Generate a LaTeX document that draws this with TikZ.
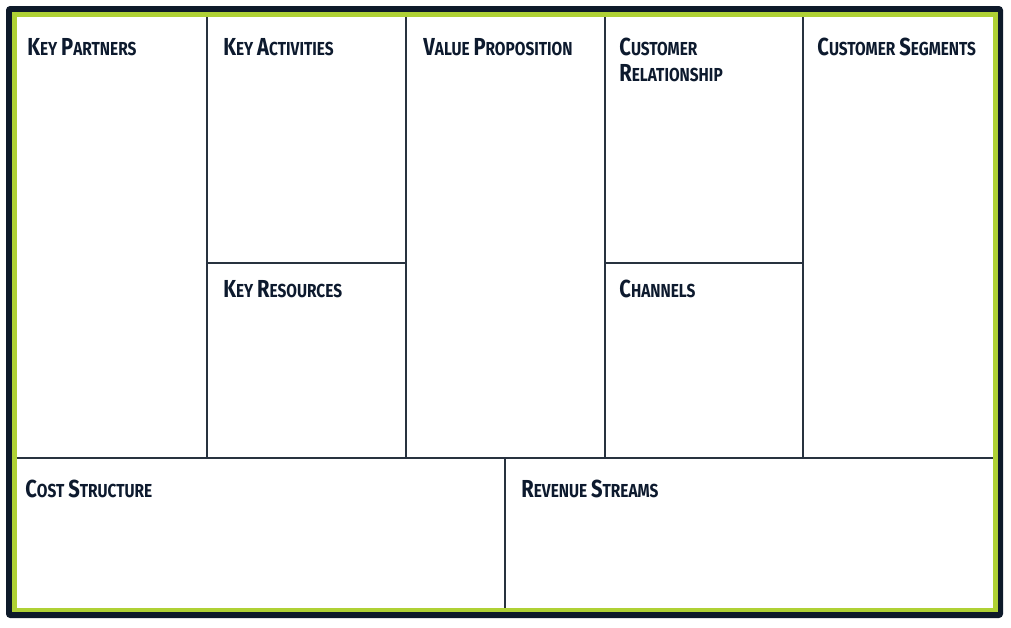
\documentclass[tikz,border=0pt]{standalone}
\usepackage{fontspec}
\newfontfamily\canvasfont{Fira Sans}[FakeStretch=0.82]
\usetikzlibrary{positioning}

\definecolor{frameblue}{HTML}{0E1A2A}
\definecolor{framegreen}{HTML}{AFD135}
\definecolor{gridline}{HTML}{28323F}
\definecolor{labelblue}{HTML}{0D1A2E}

% fake small caps: big first letter, smaller rest
\newcommand{\capsw}[2]{{\fontsize{12.3}{14}\selectfont #1}{\fontsize{9.4}{11}\selectfont #2}}

\begin{document}
\begin{tikzpicture}[x=0.5pt, y=-0.5pt]
                \tikzset{cell/.style={draw=gridline, line width=1pt},
                        lbl/.style={anchor=base west, inner sep=0pt, text=labelblue, font=\canvasfont\bfseries}}

                \useasboundingbox (0,0) rectangle (1011,627);

                % frame
                \fill[frameblue, rounded corners=2pt] (6,6) rectangle (1003,618);
                \fill[framegreen] (12,12) rectangle (998,612);
                \fill[white] (16.5,17) rectangle (993,608);

                % grid
                \draw[cell] (207,17) -- (207,458);
                \draw[cell] (406,17) -- (406,458);
                \draw[cell] (605,17) -- (605,458);
                \draw[cell] (803,17) -- (803,458);
                \draw[cell] (16.5,458) -- (993,458);
                \draw[cell] (505,458) -- (505,608);
                \draw[cell] (207,263) -- (406,263);
                \draw[cell] (605,263) -- (803,263);

                \node[lbl] (partners) at (27,55) {\capsw{K}{EY} \capsw{P}{ARTNERS}};
                \node[lbl] (activities) at (223,55) {\capsw{K}{EY} \capsw{A}{CTIVITIES}};
                \node[lbl] (resources) at (223,297) {\capsw{K}{EY} \capsw{R}{ESOURCES}};
                \node[lbl] (value) at (423,55) {\capsw{V}{ALUE} \capsw{P}{ROPOSITION}};
                \node[lbl] (relation) at (619,55) {\capsw{C}{USTOMER}};
                \node[lbl] (relation2) at (619,81) {\capsw{R}{ELATIONSHIP}};
                \node[lbl] (channels) at (619,297) {\capsw{C}{HANNELS}};
                \node[lbl] (segments) at (817,55) {\capsw{C}{USTOMER} \capsw{S}{EGMENTS}};
                \node[lbl] (cost) at (25,497) {\capsw{C}{OST} \capsw{S}{TRUCTURE}};
                \node[lbl] (revenue) at (521,497) {\capsw{R}{EVENUE} \capsw{S}{TREAMS}};
\end{tikzpicture}
\end{document}
